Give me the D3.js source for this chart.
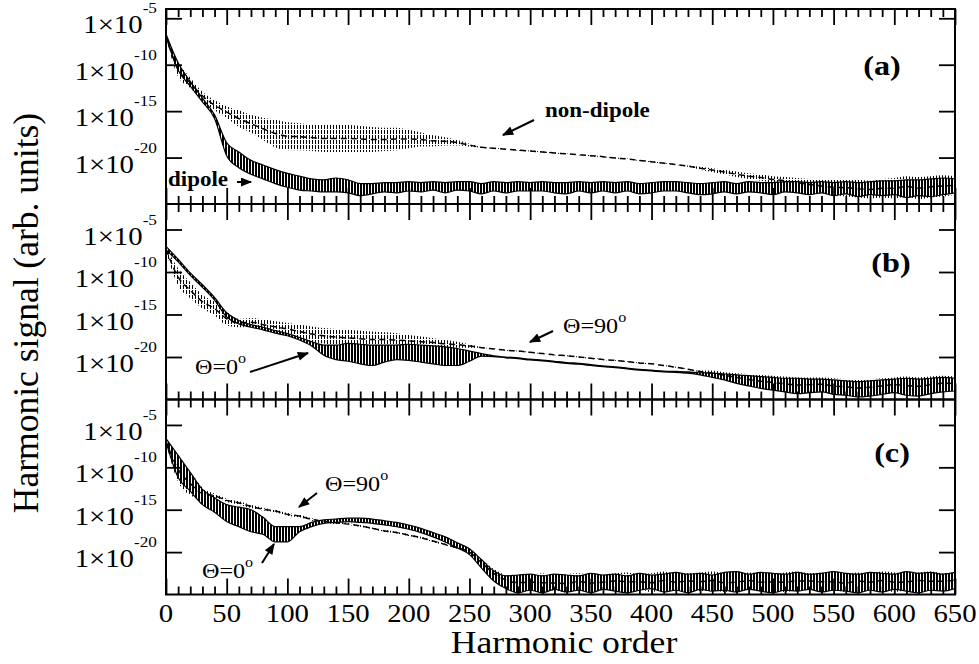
<!DOCTYPE html>
<html>
<head>
<meta charset="utf-8">
<script src="https://cdn.jsdelivr.net/npm/d3@7/dist/d3.min.js"></script>
<style>
  body { margin: 0; background: #fff; }
  text { font-family: "Liberation Serif", "Times New Roman", serif; fill: #000; }
</style>
</head>
<body>
<svg id="chart" width="979" height="664"></svg>
<script>
// harmonic order grid of the read-off values
const orders = [0,10,20,30,40,50,60,70,80,90,100,110,120,130,140,150,160,170,180,190,200,210,220,230,240,250,260,270,280,290,300,310,320,330,340,350,360,370,380,390,400,410,420,430,440,450,460,470,480,490,500,510,520,530,540,550,560,570,580,590,600,610,620,630,640,650]

// all values are log10 of the harmonic signal, upper / lower edge of the noisy trace
// panel (a) non-dipole (dashed)
const aNonDipoleHi = [-6.8,-9.7,-11.4,-12.9,-13.8,-14.5,-14.9,-15.4,-15.7,-15.9,-16.2,-16.3,-16.4,-16.5,-16.5,-16.5,-16.6,-16.7,-16.8,-16.8,-17.0,-17.3,-17.6,-17.8,-18.1,-18.5,-18.85,-18.95,-19.05,-19.15,-19.25,-19.35,-19.45,-19.55,-19.65,-19.75,-19.85,-20.0,-20.1,-20.25,-20.4,-20.55,-20.7,-20.85,-21.0,-21.15,-21.3,-21.5,-21.7,-21.8,-22.0,-22.1,-22.2,-22.3,-22.3,-22.4,-22.3,-22.4,-22.5,-22.3,-22.2,-22.0,-22.1,-22.0,-21.9,-22.0]
const aNonDipoleLo = [-7.0,-11.3,-12.5,-13.8,-14.9,-15.7,-16.7,-17.3,-18.1,-18.9,-19.2,-19.2,-19.3,-19.4,-19.4,-19.4,-19.4,-19.4,-19.3,-19.2,-19.0,-18.8,-18.8,-18.7,-18.7,-18.8,-18.95,-19.05,-19.15,-19.25,-19.35,-19.45,-19.55,-19.65,-19.75,-19.85,-19.95,-20.1,-20.2,-20.35,-20.5,-20.65,-20.8,-21.0,-21.3,-21.55,-21.8,-22.1,-22.3,-22.5,-22.7,-22.9,-23.2,-23.5,-23.8,-24.0,-24.2,-24.3,-24.4,-24.3,-24.4,-24.2,-24.5,-24.3,-24.2,-24.0]
// panel (a) dipole (solid)
const aDipoleHi = [-6.7,-9.8,-11.8,-13.6,-15.4,-18.4,-19.4,-20.3,-20.8,-21.3,-21.7,-22.0,-22.3,-22.4,-22.2,-22.4,-22.8,-22.8,-22.7,-22.7,-22.6,-22.7,-22.6,-22.7,-22.6,-22.6,-22.8,-22.6,-22.7,-22.6,-22.7,-22.6,-22.7,-22.7,-22.6,-22.7,-22.6,-22.7,-22.6,-22.8,-22.7,-22.6,-22.6,-22.7,-22.8,-22.7,-22.6,-22.8,-22.6,-22.7,-22.7,-22.6,-22.6,-22.7,-22.6,-22.7,-22.6,-22.7,-22.6,-22.5,-22.5,-22.4,-22.4,-22.3,-22.2,-22.3]
const aDipoleLo = [-7.0,-10.6,-12.3,-14.0,-15.8,-19.8,-21.1,-21.8,-22.3,-22.8,-23.2,-23.5,-23.6,-23.7,-23.7,-23.8,-24.1,-23.9,-23.7,-23.8,-23.6,-23.7,-23.5,-23.8,-23.5,-23.6,-23.9,-23.6,-23.8,-23.6,-23.6,-23.6,-23.8,-23.9,-23.6,-23.8,-23.6,-23.8,-23.6,-23.9,-23.8,-23.6,-23.6,-23.8,-24.0,-23.9,-23.7,-23.9,-23.7,-23.8,-24.0,-23.7,-23.8,-24.0,-23.8,-24.1,-23.9,-24.2,-24.0,-24.1,-24.0,-24.3,-24.1,-24.2,-24.0,-23.8]
// panel (b) theta = 90 deg (dashed)
const bTheta90Hi = [-7.0,-9.6,-11.2,-12.7,-13.5,-14.7,-15.5,-15.4,-15.6,-15.8,-16.0,-16.2,-16.4,-16.6,-16.7,-16.8,-16.9,-17.0,-17.1,-17.2,-17.4,-17.6,-17.8,-18.0,-18.2,-18.5,-18.85,-19.0,-19.15,-19.25,-19.4,-19.55,-19.7,-19.8,-19.95,-20.1,-20.25,-20.35,-20.5,-20.65,-20.75,-20.95,-21.15,-21.4,-21.6,-21.6,-21.8,-21.9,-22.0,-22.1,-22.2,-22.3,-22.4,-22.4,-22.4,-22.5,-22.6,-22.7,-22.6,-22.5,-22.4,-22.3,-22.4,-22.3,-22.2,-22.3]
const bTheta90Lo = [-7.6,-11.6,-13.1,-14.3,-15.1,-16.3,-16.5,-16.4,-16.8,-17.1,-17.4,-17.8,-18.2,-18.4,-18.6,-18.7,-18.8,-18.9,-18.8,-18.8,-18.8,-18.8,-18.8,-18.9,-18.9,-18.9,-18.95,-19.1,-19.25,-19.35,-19.5,-19.65,-19.8,-19.9,-20.05,-20.2,-20.35,-20.45,-20.6,-20.75,-20.85,-21.05,-21.25,-21.5,-21.8,-22.2,-22.5,-22.9,-23.3,-23.6,-23.8,-24.0,-24.2,-24.1,-24.0,-24.3,-24.4,-24.6,-24.5,-24.3,-24.1,-24.4,-24.5,-24.2,-24.0,-23.9]
// panel (b) theta = 0 deg (solid)
const bTheta0Hi = [-7.0,-8.5,-10.1,-11.5,-13.0,-14.8,-15.7,-16.2,-16.5,-16.9,-17.25,-17.7,-18.2,-18.6,-18.6,-18.4,-18.5,-18.6,-18.6,-18.6,-18.5,-18.6,-18.7,-18.8,-19.0,-19.3,-19.6,-19.85,-20.0,-20.1,-20.25,-20.35,-20.5,-20.65,-20.75,-20.9,-21.05,-21.15,-21.3,-21.45,-21.55,-21.65,-21.7,-21.75,-21.85,-21.9,-22.0,-22.1,-22.2,-22.3,-22.4,-22.5,-22.5,-22.6,-22.6,-22.7,-22.8,-22.9,-22.8,-22.7,-22.6,-22.5,-22.6,-22.5,-22.4,-22.5]
const bTheta0Lo = [-7.4,-8.8,-10.4,-11.8,-13.3,-15.3,-16.1,-16.5,-16.8,-17.2,-17.5,-18.0,-18.7,-19.8,-20.3,-20.5,-20.8,-21.0,-20.6,-20.3,-20.4,-20.6,-20.8,-21.0,-21.0,-20.5,-19.9,-19.95,-20.1,-20.2,-20.35,-20.45,-20.6,-20.75,-20.85,-21.0,-21.15,-21.25,-21.4,-21.55,-21.65,-21.75,-21.8,-21.9,-22.1,-22.4,-22.7,-23.1,-23.4,-23.7,-23.9,-24.1,-24.3,-24.2,-24.1,-24.4,-24.5,-24.7,-24.6,-24.4,-24.2,-24.5,-24.6,-24.3,-24.1,-24.0]
// panel (c) theta = 90 deg (dashed)
const cTheta90Hi = [-6.6,-8.8,-10.5,-12.4,-13.1,-13.7,-14.0,-14.4,-14.8,-15.0,-15.4,-15.6,-16.0,-16.2,-16.4,-16.6,-16.8,-17.1,-17.4,-17.6,-17.9,-18.2,-18.6,-19.0,-19.4,-19.9,-20.9,-22.0,-22.6,-22.6,-22.7,-22.5,-22.8,-22.6,-22.5,-22.7,-22.6,-22.5,-22.4,-22.6,-22.5,-22.3,-22.6,-22.5,-22.4,-22.3,-22.5,-22.6,-22.4,-22.5,-22.6,-22.4,-22.3,-22.5,-22.4,-22.5,-22.6,-22.4,-22.5,-22.3,-22.4,-22.5,-22.4,-22.3,-22.5,-22.4]
const cTheta90Lo = [-7.2,-11.7,-13.3,-13.8,-13.6,-14.1,-14.4,-14.8,-15.1,-15.3,-15.7,-15.9,-16.3,-16.5,-16.7,-16.8,-17.0,-17.3,-17.6,-17.8,-18.1,-18.4,-18.8,-19.2,-19.6,-20.1,-21.6,-23.0,-24.0,-24.6,-24.4,-24.7,-24.5,-24.8,-24.4,-24.6,-24.5,-24.3,-24.6,-24.4,-24.7,-24.4,-24.5,-24.3,-24.6,-24.4,-24.7,-24.5,-24.3,-24.6,-24.4,-24.7,-24.5,-24.3,-24.6,-24.5,-24.7,-24.4,-24.6,-24.4,-24.7,-24.5,-24.3,-24.6,-24.4,-24.2]
// panel (c) theta = 0 deg (solid)
const cTheta0Hi = [-6.6,-8.6,-10.6,-12.6,-13.6,-14.4,-14.7,-15.0,-15.9,-17.0,-17.0,-17.0,-16.5,-16.2,-16.1,-16.0,-16.0,-16.1,-16.3,-16.5,-16.8,-17.2,-17.7,-18.2,-18.9,-19.6,-20.9,-22.2,-22.8,-22.7,-22.6,-22.8,-22.6,-22.7,-22.8,-22.5,-22.7,-22.6,-22.8,-22.5,-22.7,-22.6,-22.4,-22.6,-22.5,-22.7,-22.4,-22.3,-22.6,-22.4,-22.5,-22.6,-22.4,-22.6,-22.5,-22.3,-22.5,-22.6,-22.4,-22.5,-22.6,-22.3,-22.5,-22.4,-22.6,-22.4]
const cTheta0Lo = [-7.0,-11.2,-12.8,-14.4,-15.3,-16.4,-17.0,-17.6,-17.9,-18.8,-18.8,-17.6,-17.0,-16.6,-16.5,-16.4,-16.5,-16.6,-16.8,-17.0,-17.3,-17.7,-18.2,-18.8,-19.5,-20.3,-21.9,-23.4,-24.3,-24.8,-24.5,-24.8,-24.4,-24.7,-24.5,-24.8,-24.4,-24.6,-24.8,-24.5,-24.3,-24.7,-24.5,-24.8,-24.4,-24.6,-24.5,-24.7,-24.4,-24.6,-24.8,-24.5,-24.6,-24.4,-24.7,-24.5,-24.6,-24.8,-24.5,-24.7,-24.4,-24.6,-24.8,-24.5,-24.6,-24.3]

const xMajorTicks = [0,50,100,150,200,250,300,350,400,450,500,550,600,650]
const yTickExponents = [-5,-10,-15,-20]
const panelLetters = ["(a)", "(b)", "(c)"]
const panelTopExponent = [-4, -2, -2]

const svg = d3.select("#chart")
const textStretch = 1.15
const plotLeft = 166, plotRight = 955
const panelEdges = [9, 204, 399.5, 594.5]

const x = d3.scaleLinear().domain([0, 650]).range([plotLeft, plotRight])

const defs = svg.append("defs")
// dashed traces oscillate fast: shown as a vertical hatch
const hatch = defs.append("pattern")
  .attr("id", "hatch")
  .attr("patternUnits", "userSpaceOnUse")
  .attr("width", 3).attr("height", 5)
hatch.append("rect").attr("x", 0).attr("y", 0).attr("width", 1).attr("height", 4).attr("fill", "#000")
// solid traces: dense, nearly black hatch
const hatchDense = defs.append("pattern")
  .attr("id", "hatchDense")
  .attr("patternUnits", "userSpaceOnUse")
  .attr("width", 3).attr("height", 4)
hatchDense.append("rect").attr("x", 0).attr("y", 0).attr("width", 2).attr("height", 4).attr("fill", "#000")

defs.append("marker")
  .attr("id", "arrow")
  .attr("viewBox", "0 0 10 8")
  .attr("refX", 9).attr("refY", 4)
  .attr("markerWidth", 12).attr("markerHeight", 9)
  .attr("markerUnits", "userSpaceOnUse")
  .attr("orient", "auto")
  .append("path")
  .attr("d", "M0,0L10,4L0,8z")
  .attr("fill", "#000")

function toPoints(hi, lo) {
  return orders.map((o, i) => ({ o: o, hi: Math.pow(10, hi[i]), lo: Math.pow(10, lo[i]) }))
}

// text drawn a bit wider than the font, like the original export
function label(g, px, py, size, anchor, weight) {
  return g.append("text")
    .attr("transform", `translate(${px},${py}) scale(${textStretch},1)`)
    .attr("text-anchor", anchor)
    .attr("font-size", size)
    .attr("font-weight", weight || "normal")
}

function degreeLabel(g, px, py, value) {
  const t = label(g, px, py, 21, "start")
  t.append("tspan").text("\u0398=" + value)
  t.append("tspan").attr("font-size", 14).attr("dy", -11).text("o")
}

function arrow(g, x1, y1, x2, y2) {
  g.append("line")
    .attr("x1", x1).attr("y1", y1).attr("x2", x2).attr("y2", y2)
    .attr("stroke", "#000").attr("stroke-width", 2)
    .attr("marker-end", "url(#arrow)")
}

const panels = [
  { dashed: toPoints(aNonDipoleHi, aNonDipoleLo), solid: toPoints(aDipoleHi, aDipoleLo) },
  { dashed: toPoints(bTheta90Hi, bTheta90Lo), solid: toPoints(bTheta0Hi, bTheta0Lo) },
  { dashed: toPoints(cTheta90Hi, cTheta90Lo), solid: toPoints(cTheta0Hi, cTheta0Lo) }
]

panels.forEach((p, i) => {
  const top = panelEdges[i], bottom = panelEdges[i + 1]
  const y = d3.scaleLog().domain([1e-25, Math.pow(10, panelTopExponent[i])]).range([bottom, top])
  const g = svg.append("g")

  defs.append("clipPath").attr("id", "clip" + i)
    .append("rect")
    .attr("x", plotLeft).attr("y", top)
    .attr("width", plotRight - plotLeft).attr("height", bottom - top)

  const band = d3.area()
    .x(d => x(d.o))
    .y0(d => y(d.lo))
    .y1(d => y(d.hi))
    .curve(d3.curveMonotoneX)
  const middle = d3.line()
    .x(d => x(d.o))
    .y(d => y(Math.sqrt(d.hi * d.lo)))
    .curve(d3.curveMonotoneX)

  const data = g.append("g").attr("clip-path", `url(#clip${i})`)
  data.append("path")
    .datum(p.dashed)
    .attr("d", band)
    .attr("fill", "url(#hatch)")
  data.append("path")
    .datum(p.dashed)
    .attr("d", middle)
    .attr("fill", "none")
    .attr("stroke", "#000")
    .attr("stroke-width", 1.5)
    .attr("stroke-dasharray", "6,4")
  data.append("path")
    .datum(p.solid)
    .attr("d", band)
    .attr("fill", "url(#hatchDense)")
    .attr("stroke", "#000")
    .attr("stroke-width", 1.2)
    .attr("stroke-linejoin", "round")

  const minorTicks = d3.range(0, 651, 10).filter(v => v % 50 !== 0)
  const yTicks = yTickExponents.map(e => Math.pow(10, e))

  const axes = [
    [d3.axisBottom(x).tickValues(xMajorTicks).tickSize(-16), `translate(0,${bottom})`],
    [d3.axisBottom(x).tickValues(minorTicks).tickSize(-8), `translate(0,${bottom})`],
    [d3.axisTop(x).tickValues(xMajorTicks).tickSize(-16), `translate(0,${top})`],
    [d3.axisTop(x).tickValues(minorTicks).tickSize(-8), `translate(0,${top})`],
    [d3.axisLeft(y).tickValues(yTicks).tickSize(-16), `translate(${plotLeft},0)`],
    [d3.axisRight(y).tickValues(yTicks).tickSize(-16), `translate(${plotRight},0)`]
  ]
  axes.forEach(([axis, tr]) => {
    const a = g.append("g").attr("transform", tr).call(axis.tickFormat(""))
    a.select(".domain").remove()
    a.selectAll(".tick line").attr("stroke", "#000").attr("stroke-width", 1.8)
    a.selectAll(".tick text").remove()
  })

  g.append("rect")
    .attr("x", plotLeft).attr("y", top)
    .attr("width", plotRight - plotLeft).attr("height", bottom - top)
    .attr("fill", "none").attr("stroke", "#000").attr("stroke-width", 2)

  yTickExponents.forEach(e => {
    const t = label(g, 157, y(Math.pow(10, e)) + 15, 25, "end")
    t.append("tspan").text("1\u00d710")
    t.append("tspan").attr("font-size", 15).attr("dy", -20).text(String(e))
  })

  if (i === 2) {
    xMajorTicks.forEach(v => {
      label(g, x(v), bottom + 27.5, 25, "middle").text(v)
    })
  }
})

// panel letters
label(svg, 882, 75, 28, "middle", "bold").text(panelLetters[0])
label(svg, 891, 272, 28, "middle", "bold").text(panelLetters[1])
label(svg, 892, 462, 28, "middle", "bold").text(panelLetters[2])

// annotations
label(svg, 545, 117, 20, "start", "bold").text("non-dipole")
arrow(svg, 534, 120, 503, 135)
label(svg, 168, 186, 20, "start", "bold").text("dipole")
arrow(svg, 237, 182, 251, 182)

degreeLabel(svg, 195, 374, "0")
arrow(svg, 250, 372, 308, 353)
degreeLabel(svg, 563, 333, "90")
arrow(svg, 553, 331, 530, 342)

degreeLabel(svg, 325, 491, "90")
arrow(svg, 317, 493, 299, 507)
degreeLabel(svg, 202, 578, "0")
arrow(svg, 262, 563, 274, 544)

// axis titles
label(svg, 564, 653, 31, "middle").text("Harmonic order")
svg.append("text")
  .attr("transform", "translate(38,313) rotate(-90)")
  .attr("text-anchor", "middle")
  .attr("font-size", 35.5)
  .text("Harmonic signal (arb. units)")
</script>
</body>
</html>
